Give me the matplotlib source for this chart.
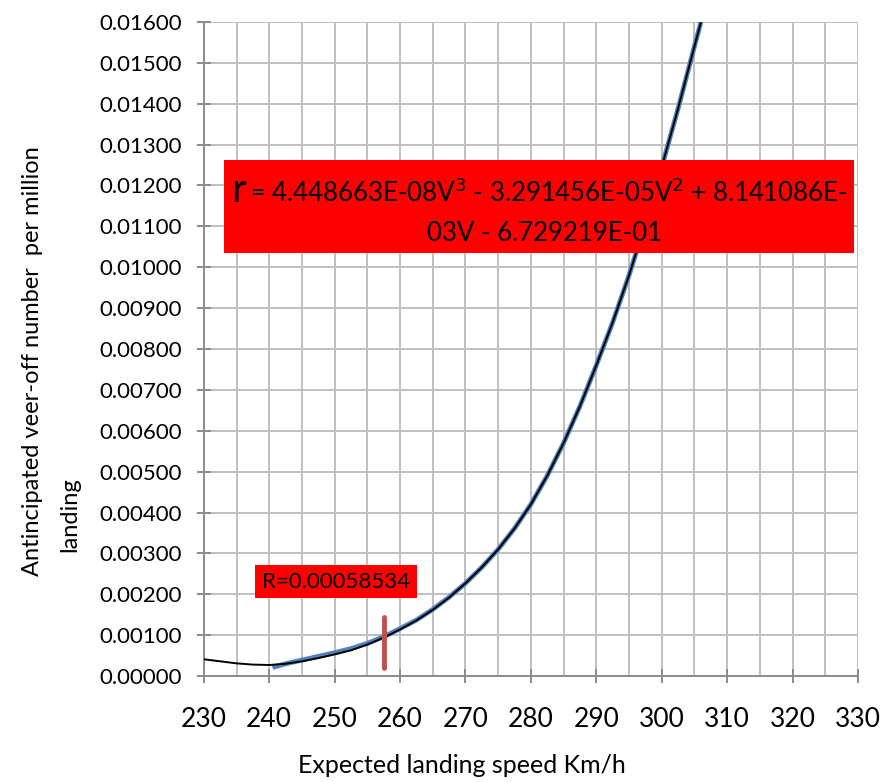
import numpy as np
import matplotlib.pyplot as plt
from matplotlib.ticker import MultipleLocator, FuncFormatter

plt.rcParams["font.family"] = ["Lato", "DejaVu Sans"]

# trend line (black)
trend_speed = [230, 232.5, 235, 237.5, 240, 242.5, 245, 247.5, 250, 252.5, 255, 257.5, 260,
               262.5, 265, 267.5, 270, 272.5, 275, 277.5, 280, 282.5, 285, 287.5, 290,
               292.5, 295, 297.5, 300, 302.5, 305, 306]
trend_rate = [0.00041, 0.00036, 0.00031, 0.00028, 0.00027, 0.00030, 0.00036, 0.00044, 0.00053,
              0.00063, 0.00077, 0.00094, 0.00114, 0.00136, 0.00162, 0.00192, 0.00227, 0.00266,
              0.00310, 0.00361, 0.00420, 0.00490, 0.00570, 0.00660, 0.00760, 0.00865, 0.00980,
              0.01107, 0.01245, 0.01388, 0.01540, 0.01600]

# data curve (blue)
data_speed = [240.5, 242.5, 245, 247.5, 250, 252.5, 255, 257.5, 260, 262.5, 265, 267.5, 270,
              272.5, 275, 277.5, 280, 282.5, 285, 287.5, 290, 292.5, 295, 297.5, 300, 302.5,
              305, 306]
data_rate = [0.00021, 0.00030, 0.00039, 0.00048, 0.00057, 0.00067, 0.00080, 0.00096, 0.00116,
             0.00137, 0.00163, 0.00193, 0.00227, 0.00266, 0.00310, 0.00361, 0.00420, 0.00490,
             0.00570, 0.00660, 0.00760, 0.00865, 0.00980, 0.01107, 0.01245, 0.01388, 0.01540,
             0.01600]

# red marker
marker_speed = 257.6
marker_range = [0.00020, 0.00144]

eq_text_1 = "= 4.448663E-08V$^3$ - 3.291456E-05V$^2$ + 8.141086E-"
eq_text_2 = "03V - 6.729219E-01"
r_label = "R=0.00058534"
ylabel_1 = "Antincipated veer-off number  per million"
ylabel_2 = "landing"

fig = plt.figure(figsize=(8.9, 7.82), dpi=100)
ax = fig.add_axes([0.229, 0.1355, 0.735, 0.8365])

ax.plot(data_speed, data_rate, color="#4F81BD", linewidth=3.5, solid_capstyle="butt", zorder=3)
ax.plot(trend_speed, trend_rate, color="black", linewidth=1.4, zorder=4)
ax.plot([marker_speed, marker_speed], marker_range, color="#C0504D", linewidth=3.5,
        solid_capstyle="round", zorder=5)

ax.set_xlim(230, 330)
ax.set_ylim(0, 0.016)
ax.xaxis.set_major_locator(MultipleLocator(10))
ax.xaxis.set_minor_locator(MultipleLocator(5))
ax.yaxis.set_major_locator(MultipleLocator(0.001))
ax.yaxis.set_major_formatter(FuncFormatter(lambda v, _: f"{v:.5f}"))

ax.grid(True, which="both", color="#BFBFBF", linewidth=1.4, zorder=0)
ax.set_axisbelow(True)
for side in ["top", "right"]:
    ax.spines[side].set_visible(False)
for side in ["left", "bottom"]:
    ax.spines[side].set_color("#8C8C8C")
    ax.spines[side].set_linewidth(1.4)
ax.tick_params(axis="both", which="major", direction="inout", length=10, width=1.4,
               color="#8C8C8C")
ax.tick_params(axis="y", labelsize=16, pad=11)
ax.tick_params(axis="x", labelsize=19, pad=17)
ax.tick_params(axis="x", which="minor", length=0)

ax.set_xlabel("Expected landing speed Km/h", fontsize=18)
ax.xaxis.set_label_coords(0.394, -0.119)

# y title, two lines placed like the original
fig.text(33 / 890, 1 - 361 / 782, ylabel_1, rotation=90, fontsize=17, ha="center", va="center")
fig.text(70 / 890, 1 - 515 / 782, ylabel_2, rotation=90, fontsize=17, ha="center", va="center")

# equation box
ax.add_patch(plt.Rectangle((233.1, 0.01034), 96.3, 0.00228, facecolor="#FF0000",
                           edgecolor="none", zorder=6, clip_on=False))
ax.text(234.2, 0.01188, "r", fontsize=29, ha="left", va="center", zorder=7)
ax.text(237.0, 0.01181, eq_text_1, fontsize=18.5, ha="left", va="center", zorder=7)
ax.text(282.1, 0.01083, eq_text_2, fontsize=18.5, ha="center", va="center", zorder=7)

# R box
ax.add_patch(plt.Rectangle((237.8, 0.00190), 24.8, 0.00082, facecolor="#FF0000",
                           edgecolor="none", zorder=6))
ax.text(250.2, 0.00231, r_label, fontsize=16, ha="center", va="center", zorder=7)

fig.savefig("out.png", dpi=100, facecolor="white")
